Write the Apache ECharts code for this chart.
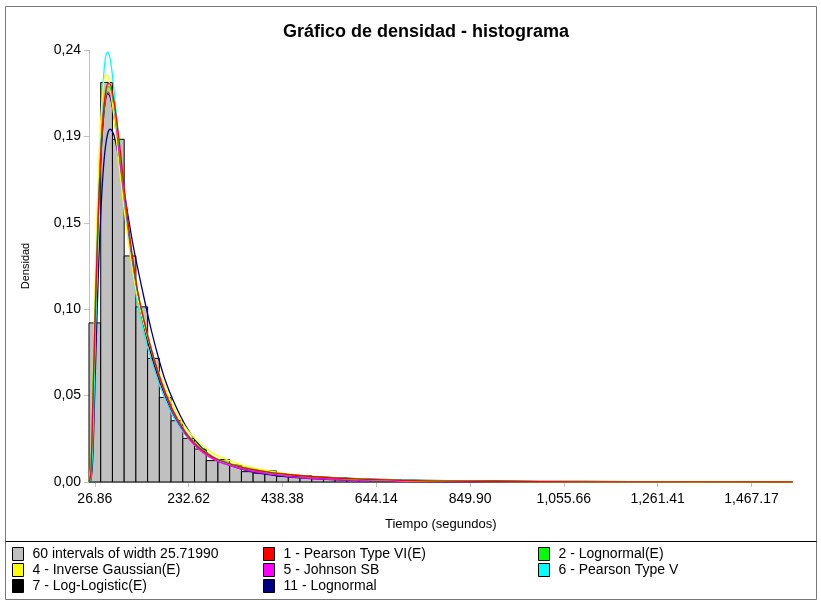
<!DOCTYPE html>
<html>
<head>
<meta charset="utf-8">
<script src="https://cdn.jsdelivr.net/npm/echarts@6/dist/echarts.min.js"></script>
<style>
  html, body { margin: 0; padding: 0; background: #fff; }
  #chart { width: 821px; height: 604px; }
</style>
</head>
<body>
<div id="chart"></div>
<script>
// histograma: 60 intervalos, el primero centrado en 26.86
const binCount = 60;
const binWidth = 25.7199;
const firstCenter = 26.86;
const binHeights = [
  0.0893, 0.2243, 0.1924, 0.1269, 0.0983, 0.0694, 0.0475, 0.0344, 0.0245, 0.0185,
  0.0120, 0.0126, 0.0095, 0.0058, 0.0050, 0.0062, 0.0033, 0.0030, 0.0035, 0.0028,
  0.0022, 0.0022, 0.0017, 0.0010, 0.0008, 0.0006, 0.0005, 0.0004, 0.0003, 0.0003,
  0.0002, 0.0002, 0.0001, 0.0001, 0.0001, 0, 0, 0, 0, 0,
  0, 0, 0, 0, 0, 0, 0, 0, 0, 0,
  0, 0, 0, 0, 0, 0, 0, 0, 0, 0
];

// ticks del eje x
const xTicks = [26.86, 232.62, 438.38, 644.14, 849.90, 1055.66, 1261.41, 1467.17];
const yMax = 0.2425;
const yStep = 0.0485;

// puntos de las curvas de densidad (tiempo)
const curveX = [14, 18, 22, 26, 30, 35, 40, 45, 50, 55, 60, 65, 70, 80, 90, 100, 110, 120, 135, 150,
  165, 180, 200, 225, 250, 275, 300, 350, 400, 450, 500, 600, 700, 800, 1000, 1200, 1557];

const pearson6E = [0, 0.005, 0.04, 0.08, 0.115, 0.155, 0.185, 0.205, 0.218, 0.2235, 0.2235, 0.219, 0.212, 0.192, 0.168, 0.145, 0.125, 0.108, 0.090, 0.075,
  0.062, 0.051, 0.039, 0.028, 0.0205, 0.0155, 0.0122, 0.0082, 0.0058, 0.0042, 0.0031, 0.0017, 0.0009, 0.0005, 0.00015, 0.00004, 0];
const lognormalE = [0, 0.006, 0.042, 0.083, 0.118, 0.157, 0.186, 0.205, 0.216, 0.222, 0.2215, 0.217, 0.210, 0.190, 0.167, 0.144, 0.125, 0.108, 0.0905, 0.0755,
  0.0625, 0.0515, 0.0395, 0.0285, 0.021, 0.016, 0.0125, 0.0085, 0.006, 0.0043, 0.0031, 0.0016, 0.0009, 0.0005, 0.00015, 0.00004, 0];
const invGaussE = [0, 0.01, 0.05, 0.095, 0.135, 0.175, 0.204, 0.221, 0.2285, 0.228, 0.222, 0.213, 0.202, 0.178, 0.155, 0.135, 0.118, 0.104, 0.088, 0.075,
  0.0635, 0.0535, 0.042, 0.031, 0.0235, 0.018, 0.0142, 0.0095, 0.0066, 0.0046, 0.0032, 0.0016, 0.0008, 0.0004, 0.0001, 0.00002, 0];
const johnsonSB = [0, 0.008, 0.045, 0.087, 0.123, 0.16, 0.188, 0.206, 0.2155, 0.219, 0.2175, 0.212, 0.204, 0.185, 0.163, 0.142, 0.123, 0.107, 0.089, 0.074,
  0.061, 0.050, 0.038, 0.027, 0.0195, 0.0145, 0.0112, 0.0073, 0.0048, 0.0032, 0.0021, 0.0009, 0.0004, 0.00015, 0, 0, 0];
const pearson5 = [0, 0.002, 0.02, 0.06, 0.105, 0.157, 0.198, 0.224, 0.238, 0.2415, 0.238, 0.229, 0.217, 0.190, 0.162, 0.137, 0.117, 0.101, 0.083, 0.069,
  0.057, 0.047, 0.036, 0.0265, 0.0198, 0.015, 0.0118, 0.0079, 0.0056, 0.0041, 0.003, 0.0017, 0.001, 0.0006, 0.00025, 0.0001, 0.00003];
const logLogisticE = [0, 0.004, 0.035, 0.075, 0.112, 0.152, 0.182, 0.202, 0.214, 0.218, 0.2165, 0.211, 0.203, 0.183, 0.161, 0.140, 0.121, 0.105, 0.087, 0.072,
  0.0595, 0.049, 0.0375, 0.027, 0.020, 0.0152, 0.0119, 0.0078, 0.0055, 0.0041, 0.0031, 0.0019, 0.0012, 0.0008, 0.0004, 0.0002, 0.0001];
const lognormal11 = [0, 0.001, 0.012, 0.045, 0.08, 0.12, 0.152, 0.174, 0.188, 0.1955, 0.198, 0.197, 0.1935, 0.181, 0.165, 0.149, 0.134, 0.121, 0.103, 0.086,
  0.071, 0.058, 0.045, 0.032, 0.0225, 0.016, 0.0118, 0.0071, 0.0044, 0.0029, 0.0019, 0.0009, 0.0004, 0.0002, 0.00005, 0, 0];

const histName = "60 intervals of width 25.71990";
const curves = [
  { name: "1 - Pearson Type VI(E)", color: "#ff0000", values: pearson6E },
  { name: "2 - Lognormal(E)", color: "#00ff00", values: lognormalE },
  { name: "4 - Inverse Gaussian(E)", color: "#ffff00", values: invGaussE },
  { name: "5 - Johnson SB", color: "#ff00ff", values: johnsonSB },
  { name: "6 - Pearson Type V", color: "#00ffff", values: pearson5 },
  { name: "7 - Log-Logistic(E)", color: "#000000", values: logLogisticE },
  { name: "11 - Lognormal", color: "#000080", values: lognormal11 }
];

const binStart = firstCenter - binWidth / 2;
const binEnd = binStart + binCount * binWidth;
const histData = binHeights.map((h, i) => [binStart + i * binWidth, binStart + (i + 1) * binWidth, h]);

const font = "Arial, 'Liberation Sans', sans-serif";

let chart = echarts.init(document.getElementById("chart"));

// las curvas: la roja queda arriba
let lineSeries = curves.slice().reverse().map(c => ({
  name: c.name,
  type: "line",
  data: curveX.map((x, i) => [x, c.values[i]]),
  color: c.color,
  showSymbol: false,
  smooth: 0.3,
  lineStyle: { width: 1.3, color: c.color },
  z: 3
}));

function legendBlock(names, left) {
  return {
    orient: "vertical",
    left: left,
    top: 547,
    padding: 0,
    itemGap: 2,
    itemWidth: 11,
    itemHeight: 13,
    icon: "rect",
    itemStyle: { borderColor: "#000", borderWidth: 1 },
    textStyle: { fontFamily: font, fontSize: 14, lineHeight: 14, color: "#000", padding: [0, 0, 0, 4] },
    data: names
  };
}

chart.setOption({
  animation: false,
  title: {
    text: "Gráfico de densidad - histograma",
    left: 421,
    top: 18,
    textAlign: "center",
    textStyle: { fontFamily: font, fontSize: 18, fontWeight: "bold", color: "#000" }
  },
  graphic: [
    { type: "rect", shape: { x: 5.5, y: 6.5, width: 811, height: 593 }, style: { fill: null, stroke: "#777", lineWidth: 1 }, silent: true },
    { type: "line", shape: { x1: 5.5, y1: 541.5, x2: 816.5, y2: 541.5 }, style: { stroke: "#000", lineWidth: 1 }, silent: true }
  ],
  legend: [
    legendBlock([histName, "4 - Inverse Gaussian(E)", "7 - Log-Logistic(E)"], 12),
    legendBlock(["1 - Pearson Type VI(E)", "5 - Johnson SB", "11 - Lognormal"], 263),
    legendBlock(["2 - Lognormal(E)", "6 - Pearson Type V"], 538)
  ],
  grid: { left: 89, right: 28.5, top: 50, bottom: 122 },
  xAxis: {
    type: "value",
    min: binStart,
    max: binEnd,
    name: "Tiempo (segundos)",
    nameLocation: "middle",
    nameGap: 36,
    nameTextStyle: { fontFamily: font, fontSize: 13, color: "#000" },
    axisLine: { show: true, lineStyle: { color: "#c0c0c0" } },
    axisTick: { show: true, length: 5, lineStyle: { color: "#c0c0c0" }, customValues: xTicks },
    axisLabel: {
      fontFamily: font, fontSize: 14, color: "#000", margin: 10,
      customValues: xTicks,
      formatter: v => v.toLocaleString("en-US", { minimumFractionDigits: 2, maximumFractionDigits: 2 })
    },
    splitLine: { show: false }
  },
  yAxis: {
    type: "value",
    min: 0,
    max: yMax,
    interval: yStep,
    name: "Densidad",
    nameLocation: "middle",
    nameGap: 58,
    nameTextStyle: { fontFamily: font, fontSize: 11, color: "#000" },
    axisLine: { show: true, lineStyle: { color: "#c0c0c0" } },
    axisTick: { show: true, length: 5, lineStyle: { color: "#c0c0c0" } },
    axisLabel: {
      fontFamily: font, fontSize: 14, color: "#000", margin: 8,
      formatter: v => v.toFixed(2).replace(".", ",")
    },
    splitLine: { show: false }
  },
  series: [
    {
      name: histName,
      type: "custom",
      color: "#c0c0c0",
      data: histData,
      encode: { x: [0, 1], y: 2 },
      renderItem: function (params, api) {
        let p0 = api.coord([api.value(0), api.value(2)]);
        let p1 = api.coord([api.value(1), 0]);
        return {
          type: "rect",
          shape: { x: p0[0], y: p0[1], width: p1[0] - p0[0], height: p1[1] - p0[1] },
          style: { fill: "#c0c0c0", stroke: "#000", lineWidth: 1 }
        };
      },
      z: 2
    }
  ].concat(lineSeries)
});
</script>
</body>
</html>
